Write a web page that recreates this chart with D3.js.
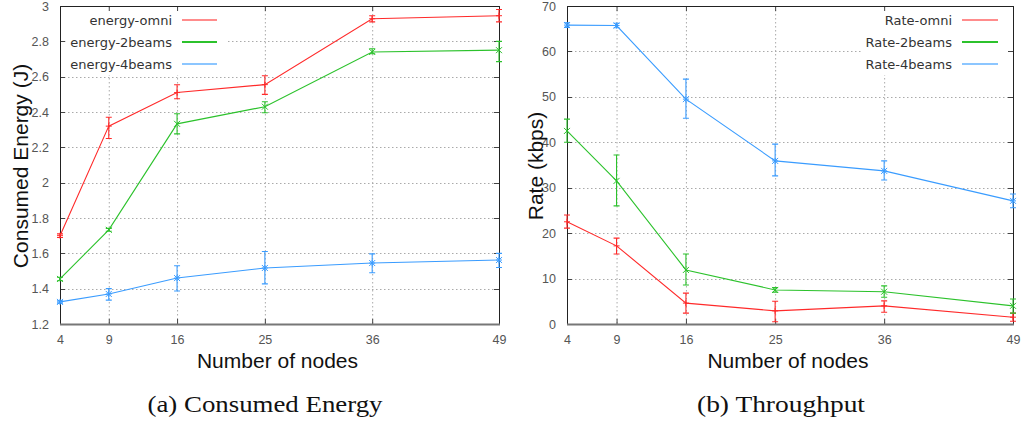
<!DOCTYPE html>
<html><head><meta charset="utf-8">
<script src="https://cdn.jsdelivr.net/npm/d3@7"></script>
<style>body{margin:0;background:#fff}svg{display:block}</style>
</head><body><svg id="c" width="1021" height="423"></svg>
<script>
const nodes = [4, 9, 16, 25, 36, 49];
// Energy (J): value, low, high
const energyOmni   = [1.70, 2.32, 2.51, 2.555, 2.928, 2.945];
const energyOmniLo = [1.69, 2.25, 2.475, 2.50, 2.91, 2.91];
const energyOmniHi = [1.71, 2.37, 2.554, 2.605, 2.945, 2.98];
const energy2b     = [1.455, 1.733, 2.333, 2.43, 2.74, 2.75];
const energy2bLo   = [1.445, 1.725, 2.276, 2.396, 2.73, 2.685];
const energy2bHi   = [1.465, 1.741, 2.39, 2.458, 2.758, 2.80];
const energy4b     = [1.325, 1.37, 1.46, 1.517, 1.545, 1.562];
const energy4bLo   = [1.318, 1.335, 1.387, 1.427, 1.49, 1.52];
const energy4bHi   = [1.332, 1.40, 1.53, 1.61, 1.597, 1.60];
// Rate (kbps)
const rateOmni   = [22.5, 17.2, 4.6, 2.9, 4.0, 1.5];
const rateOmniLo = [21.1, 15.4, 2.4, 0.5, 2.6, 0.6];
const rateOmniHi = [24.0, 18.9, 6.8, 5.0, 5.1, 2.4];
const rate2b     = [42.5, 31.5, 11.9, 7.5, 7.1, 4.0];
const rate2bLo   = [40.0, 26.0, 8.6, 7.0, 5.9, 2.4];
const rate2bHi   = [45.1, 37.2, 15.4, 8.0, 8.4, 5.5];
const rate4b     = [65.8, 65.7, 49.5, 35.9, 33.7, 27.1];
const rate4bLo   = [65.3, 65.2, 45.3, 32.6, 31.7, 25.6];
const rate4bHi   = [66.3, 66.2, 53.9, 39.6, 35.9, 28.6];
const energyTicks = [1.2, 1.4, 1.6, 1.8, 2, 2.2, 2.4, 2.6, 2.8, 3];
const rateTicks = [0, 10, 20, 30, 40, 50, 60, 70];
const energyNames = ["energy-omni", "energy-2beams", "energy-4beams"];
const rateNames = ["Rate-omni", "Rate-2beams", "Rate-4beams"];
const colors = ["#ff2a2a", "#2cc22c", "#3a9cff"];
const legendColors = ["#ff8c8c", "#2cc22c", "#8cc6ff"];

const svg = d3.select("#c");

function panel(cfg) {
  const x = d3.scaleLinear().domain([4, 49]).range([cfg.x0, cfg.x1]);
  const y = d3.scaleLinear().domain(cfg.ydom).range([324, 6]);
  const g = svg.append("g");
  // grid
  g.append("g").selectAll("line").data(nodes.slice(1, -1)).join("line")
    .attr("x1", d => x(d) + 0.5).attr("x2", d => x(d) + 0.5).attr("y1", 6).attr("y2", 324)
    .attr("stroke", "#aaa").attr("stroke-dasharray", "1.5,2.5");
  g.append("g").selectAll("line").data(cfg.ticks.slice(1, -1)).join("line")
    .attr("x1", cfg.x0).attr("x2", cfg.x1).attr("y1", d => Math.round(y(d)) + 0.5).attr("y2", d => Math.round(y(d)) + 0.5)
    .attr("stroke", "#aaa").attr("stroke-dasharray", "1.5,2.5");
  // legend background
  g.append("rect").attr("x", cfg.legBox[0]).attr("y", 9).attr("width", cfg.legBox[1]).attr("height", 66).attr("fill", "#fff");
  // axes
  const ya = g.append("g").attr("transform", `translate(${cfg.x0},0)`)
    .call(d3.axisLeft(y).tickValues(cfg.ticks).tickSize(0).tickPadding(11).tickFormat(d3.format("")));
  ya.select(".domain").remove();
  ya.selectAll("text").attr("font-family", "Liberation Sans").attr("font-size", 12.5).attr("fill", "#555");
  const xa = g.append("g").attr("transform", `translate(0,324)`)
    .call(d3.axisBottom(x).tickValues(nodes).tickSize(0).tickPadding(11).tickFormat(d3.format("")));
  xa.select(".domain").remove();
  xa.selectAll("text").attr("font-family", "Liberation Sans").attr("font-size", 12.5).attr("fill", "#555");
  // tick marks (inward, mirrored)
  g.append("g").selectAll("line").data(cfg.ticks).join("line")
    .attr("x1", cfg.x1 - 5).attr("x2", cfg.x1).attr("y1", d => Math.round(y(d)) + 0.5).attr("y2", d => Math.round(y(d)) + 0.5)
    .attr("stroke", "#444");
  g.append("g").selectAll("line").data(cfg.ticks).join("line")
    .attr("x1", cfg.x0).attr("x2", cfg.x0 + 5).attr("y1", d => Math.round(y(d)) + 0.5).attr("y2", d => Math.round(y(d)) + 0.5)
    .attr("stroke", "#444");
  g.append("g").selectAll("line").data(nodes).join("line")
    .attr("x1", d => x(d) + 0.5).attr("x2", d => x(d) + 0.5).attr("y1", 324).attr("y2", 319)
    .attr("stroke", "#444");
  g.append("g").selectAll("line").data(nodes).join("line")
    .attr("x1", d => x(d) + 0.5).attr("x2", d => x(d) + 0.5).attr("y1", 6).attr("y2", 11)
    .attr("stroke", "#444");
  // frame
  g.append("path").attr("d", `M${cfg.x0 + 0.5},324 V6.5 H${cfg.x1 + 0.5} V324`).attr("fill", "none").attr("stroke", "#222");
  g.append("line").attr("x1", cfg.x0).attr("x2", cfg.x1 + 1).attr("y1", 324.5).attr("y2", 324.5).attr("stroke", "#777").attr("stroke-width", 2);
  // series
  const line = d3.line().x(d => x(d[0])).y(d => y(d[1]));
  const markers = ["plus", "cross", "star"];
  cfg.series.forEach((s, i) => {
    const data = nodes.map((n, k) => [n, s.v[k], s.lo[k], s.hi[k]]);
    const sg = g.append("g");
    sg.append("path").datum(data).attr("d", line).attr("fill", "none").attr("stroke", colors[i]).attr("stroke-width", 1.1);
    sg.selectAll(".eb").data(data).join("path")
      .attr("d", d => {
        const cx = x(d[0]), t = y(d[3]), b = y(d[2]);
        return `M${cx},${t} V${b} M${cx - 3},${t} H${cx + 3} M${cx - 3},${b} H${cx + 3}`;
      }).attr("fill", "none").attr("stroke", colors[i]).attr("stroke-width", 1.1);
    sg.selectAll(".mk").data(data).join("path")
      .attr("d", d => {
        const cx = x(d[0]), cy = y(d[1]), r = 3;
        const p = `M${cx - r},${cy} H${cx + r} M${cx},${cy - r} V${cy + r}`;
        const c = `M${cx - r},${cy - r} L${cx + r},${cy + r} M${cx - r},${cy + r} L${cx + r},${cy - r}`;
        return markers[i] === "plus" ? p : markers[i] === "cross" ? c : p + c;
      }).attr("fill", "none").attr("stroke", colors[i]).attr("stroke-width", 1);
  });
  // legend
  cfg.names.forEach((nm, i) => {
    const yy = 20 + i * 22;
    g.append("text").attr("x", cfg.legText).attr("y", yy).attr("dy", "0.35em").attr("text-anchor", "end")
      .attr("font-family", "DejaVu Sans").attr("font-size", 13).attr("fill", "#333").text(nm);
    g.append("line").attr("x1", cfg.legLine[0]).attr("x2", cfg.legLine[1]).attr("y1", yy).attr("y2", yy)
      .attr("stroke", legendColors[i]).attr("stroke-width", 2);
  });
  // titles
  g.append("text").attr("x", (cfg.x0 + cfg.x1) / 2 - 2).attr("y", 368).attr("text-anchor", "middle")
    .attr("font-family", "Liberation Sans").attr("font-size", 21).attr("fill", "#111").text("Number of nodes");
  g.append("text").attr("transform", `translate(${cfg.ytitleX},166) rotate(-90)`).attr("text-anchor", "middle")
    .attr("font-family", "Liberation Sans").attr("font-size", 21).attr("fill", "#111").text(cfg.ytitle);
  g.append("text").attr("x", cfg.capX - cfg.capW / 2).attr("y", 412)
    .attr("textLength", cfg.capW).attr("lengthAdjust", "spacingAndGlyphs")
    .attr("font-family", "Liberation Serif").attr("font-size", 24).attr("fill", "#111").text(cfg.caption);
}

panel({
  x0: 60, x1: 499, ydom: [1.2, 3], ticks: energyTicks, names: energyNames,
  series: [
    {v: energyOmni, lo: energyOmniLo, hi: energyOmniHi},
    {v: energy2b, lo: energy2bLo, hi: energy2bHi},
    {v: energy4b, lo: energy4bLo, hi: energy4bHi}
  ],
  legBox: [66, 160], legText: 172, legLine: [182, 217],
  ytitle: "Consumed Energy (J)", ytitleX: 28, caption: "(a) Consumed Energy", capX: 265, capW: 235
});
panel({
  x0: 567, x1: 1013, ydom: [0, 70], ticks: rateTicks, names: rateNames,
  series: [
    {v: rateOmni, lo: rateOmniLo, hi: rateOmniHi},
    {v: rate2b, lo: rate2bLo, hi: rate2bHi},
    {v: rate4b, lo: rate4bLo, hi: rate4bHi}
  ],
  legBox: [862, 146], legText: 952, legLine: [962, 998],
  ytitle: "Rate (kbps)", ytitleX: 543, caption: "(b) Throughput", capX: 781, capW: 168
});
</script></body></html>
